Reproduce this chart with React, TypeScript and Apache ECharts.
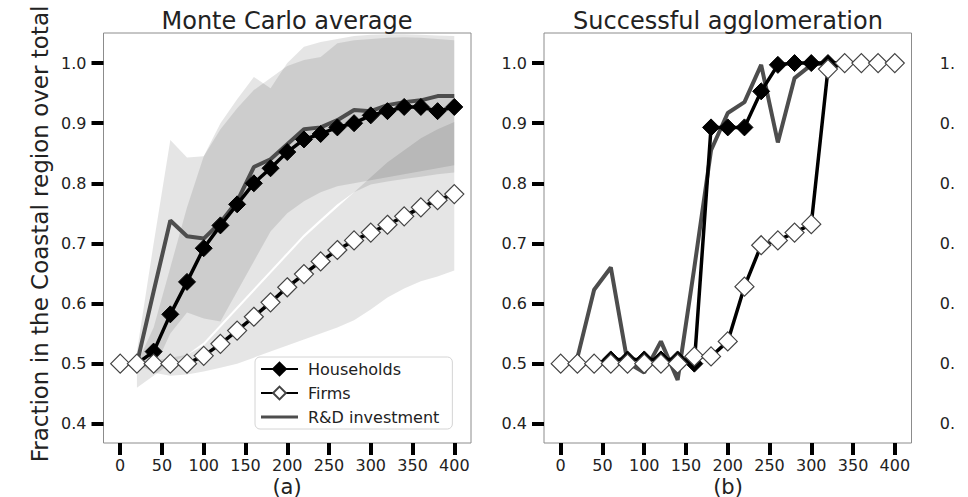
import React, { useEffect, useRef } from "react";
import * as echarts from "echarts";

const FONT = "DejaVu Sans";

// x positions (time steps)
const steps = [0, 20, 40, 60, 80, 100, 120, 140, 160, 180, 200, 220, 240, 260, 280, 300, 320, 340, 360, 380, 400];
const xTicks = [0, 50, 100, 150, 200, 250, 300, 350, 400];
const yTicks = [0.4, 0.5, 0.6, 0.7, 0.8, 0.9, 1.0];

// Panel (a): Monte Carlo average
const hhA = [0.5, 0.5, 0.52, 0.582, 0.636, 0.692, 0.73, 0.765, 0.8, 0.825, 0.852, 0.873, 0.882, 0.893, 0.9, 0.913, 0.92, 0.927, 0.927, 0.92, 0.927];
const firmA = [0.5, 0.5, 0.5, 0.5, 0.5, 0.513, 0.533, 0.555, 0.578, 0.602, 0.627, 0.649, 0.67, 0.689, 0.705, 0.718, 0.731, 0.745, 0.76, 0.772, 0.782];
const rdA = [null, 0.5, 0.62, 0.738, 0.712, 0.708, 0.735, 0.77, 0.827, 0.84, 0.865, 0.89, 0.893, 0.905, 0.922, 0.92, 0.93, 0.935, 0.938, 0.945, 0.945];

// Panel (a) spread bands
const rdUpA = [null, 0.52, 0.7, 0.872, 0.843, 0.845, 0.9, 0.94, 0.977, 0.958, 1.0, 1.027, 1.035, 1.04, 1.045, 1.047, 1.048, 1.048, 1.047, 1.046, 1.045];
const rdLoA = [null, 0.46, 0.48, 0.5, 0.515, 0.535, 0.565, 0.595, 0.625, 0.655, 0.685, 0.715, 0.74, 0.765, 0.785, 0.798, 0.803, 0.807, 0.811, 0.815, 0.818];
const hhUpA = [0.5, 0.5, 0.56, 0.66, 0.76, 0.845, 0.89, 0.925, 0.955, 0.975, 0.995, 1.005, 1.01, 1.033, 1.038, 1.04, 1.042, 1.043, 1.042, 1.04, 1.038];
const hhLoA = [0.5, 0.5, 0.49, 0.55, 0.585, 0.575, 0.57, 0.62, 0.67, 0.72, 0.75, 0.77, 0.785, 0.795, 0.8, 0.805, 0.81, 0.815, 0.82, 0.825, 0.83];
const firmUpA = [0.5, 0.5, 0.505, 0.51, 0.515, 0.53, 0.56, 0.59, 0.62, 0.65, 0.68, 0.71, 0.735, 0.76, 0.785, 0.81, 0.835, 0.855, 0.875, 0.89, 0.902];
const firmLoA = [0.5, 0.5, 0.485, 0.48, 0.482, 0.487, 0.493, 0.5, 0.51, 0.52, 0.53, 0.54, 0.55, 0.56, 0.572, 0.59, 0.61, 0.625, 0.637, 0.645, 0.655];

// Panel (b): Successful agglomeration
const hhB = [0.5, 0.5, 0.5, 0.507, 0.507, 0.507, 0.507, 0.507, 0.5, 0.893, 0.893, 0.893, 0.953, 0.997, 1.0, 1.0, 1.0, 1.0, 1.0, 1.0, 1.0];
const firmB = [0.5, 0.5, 0.5, 0.5, 0.5, 0.5, 0.5, 0.5, 0.512, 0.512, 0.537, 0.628, 0.697, 0.705, 0.718, 0.732, 0.99, 1.0, 1.0, 1.0, 1.0];
const rdB = [null, 0.51, 0.623, 0.66, 0.502, 0.485, 0.537, 0.473, 0.66, 0.855, 0.917, 0.935, 0.997, 0.868, 0.975, 0.997, 1.0, 1.0, 1.0, 1.0, 1.0];

const pairs = (vals: (number | null)[]) =>
  steps.map((x, i) => [x, vals[i]]).filter((p) => p[1] !== null);

const gridLefts = [103.5, 544, 985];

function axesFor(i: number) {
  const third = i === 2;
  const x = {
    type: "value",
    gridIndex: i,
    min: -20,
    max: 420,
    axisLine: { show: false, onZero: false },
    splitLine: { show: false },
    axisTick: { show: !third, length: 12, lineStyle: { color: "#000", width: 4 }, customValues: xTicks },
    axisLabel: { show: !third, customValues: xTicks, fontSize: 16, color: "#222", margin: 14, fontFamily: FONT },
  };
  const y = {
    type: "value",
    gridIndex: i,
    min: 0.368,
    max: 1.05,
    axisLine: { show: false, onZero: false },
    splitLine: { show: false },
    axisTick: { show: true, length: 12, lineStyle: { color: "#000", width: 4 }, customValues: yTicks },
    axisLabel: {
      customValues: yTicks,
      fontSize: 16,
      color: "#222",
      margin: third ? 30 : 17,
      fontFamily: FONT,
      formatter: (v: number) => (third ? v.toFixed(1).slice(0, 2) : v.toFixed(1)),
    },
  };
  return { x, y };
}

function band(id: string, lo: (number | null)[], hi: (number | null)[], gi: number) {
  const data = steps
    .map((x, i) => [x, lo[i], hi[i]])
    .filter((p) => p[1] !== null && p[2] !== null);
  return {
    type: "custom",
    name: id,
    xAxisIndex: gi,
    yAxisIndex: gi,
    data,
    encode: { x: 0, y: [1, 2] },
    silent: true,
    z: 1,
    renderItem: (params: any, api: any) => {
      if (params.dataIndex !== 0) return null;
      const pts: number[][] = [];
      for (let k = 0; k < data.length; k++) pts.push(api.coord([data[k][0], data[k][2]]));
      for (let k = data.length - 1; k >= 0; k--) pts.push(api.coord([data[k][0], data[k][1]]));
      return {
        type: "polygon",
        shape: { points: pts },
        style: { fill: "rgba(0,0,0,0.1)", stroke: "none" },
        silent: true,
      };
    },
  };
}

function mainSeries(gi: number, hh: (number | null)[], firm: (number | null)[], rd: (number | null)[]) {
  return [
    {
      type: "line",
      name: "R&D investment",
      xAxisIndex: gi,
      yAxisIndex: gi,
      data: pairs(rd),
      symbol: "none",
      lineStyle: { color: "#4d4d4d", width: 4 },
      itemStyle: { color: "#4d4d4d" },
      z: 3,
    },
    {
      type: "line",
      name: "Households",
      xAxisIndex: gi,
      yAxisIndex: gi,
      data: pairs(hh),
      symbol: "diamond",
      symbolSize: 17,
      showSymbol: true,
      lineStyle: { color: "#000", width: 3.5 },
      itemStyle: { color: "#000", borderColor: "#000", borderWidth: 1 },
      z: 4,
    },
    {
      type: "line",
      name: "Firms",
      xAxisIndex: gi,
      yAxisIndex: gi,
      data: pairs(firm),
      symbol: "diamond",
      symbolSize: 19,
      showSymbol: true,
      lineStyle: { color: "#000", width: 3.5 },
      itemStyle: { color: "#fff", borderColor: "#444", borderWidth: 1.2 },
      z: 5,
    },
  ];
}

export default function App() {
  const ref = useRef<HTMLDivElement>(null);
  useEffect(() => {
    const chart = echarts.init(ref.current!, null, { renderer: "svg" });
    const axes = [0, 1, 2].map(axesFor);
    const option = {
      animation: false,
      backgroundColor: "#fff",
      grid: gridLefts.map((l) => ({
        left: l,
        top: 33,
        width: 367.5,
        height: 410,
        show: true,
        borderColor: "#8c8c8c",
        borderWidth: 1,
        backgroundColor: "transparent",
      })),
      xAxis: axes.map((a) => a.x),
      yAxis: axes.map((a) => a.y),
      legend: {
        data: [
          { name: "Households" },
          { name: "Firms" },
          { name: "R&D investment", icon: "path://M0,0 H40 V3.2 H0 Z" },
        ],
        orient: "vertical",
        left: 255,
        top: 357,
        itemWidth: 37,
        itemHeight: 16,
        itemGap: 8,
        padding: [4, 13, 4, 5],
        backgroundColor: "#fff",
        borderColor: "#d4d4d4",
        borderWidth: 1,
        borderRadius: 5,
        textStyle: { fontSize: 16, color: "#222", fontFamily: FONT, padding: [0, 0, 0, 5] },
      },
      series: [
        band("rd", rdLoA, rdUpA, 0),
        band("hh", hhLoA, hhUpA, 0),
        band("fm", firmLoA, firmUpA, 0),
        ...mainSeries(0, hhA, firmA, rdA),
        ...mainSeries(1, hhB, firmB, rdB),
      ],
      graphic: [
        {
          type: "text",
          x: 287,
          y: 21,
          style: { text: "Monte Carlo average", fontSize: 24, fontFamily: FONT, fill: "#222", align: "center", verticalAlign: "middle" },
        },
        {
          type: "text",
          x: 728,
          y: 21,
          style: { text: "Successful agglomeration", fontSize: 24, fontFamily: FONT, fill: "#222", align: "center", verticalAlign: "middle" },
        },
        {
          type: "text",
          x: 287,
          y: 486.5,
          style: { text: "(a)", fontSize: 21, fontFamily: FONT, fill: "#222", align: "center", verticalAlign: "middle" },
        },
        {
          type: "text",
          x: 728,
          y: 486.5,
          style: { text: "(b)", fontSize: 21, fontFamily: FONT, fill: "#222", align: "center", verticalAlign: "middle" },
        },
        {
          type: "text",
          x: 40,
          y: 234,
          rotation: Math.PI / 2,
          style: {
            text: "Fraction in the Coastal region over total",
            fontSize: 23,
            fontFamily: FONT,
            fill: "#222",
            align: "center",
            verticalAlign: "middle",
          },
        },
      ],
    };
    chart.setOption(option as any);
    return () => chart.dispose();
  }, []);
  return (
    <div
      ref={ref}
      style={{ position: "fixed", left: 0, top: 0, width: 968, height: 497, background: "#fff" }}
    />
  );
}
